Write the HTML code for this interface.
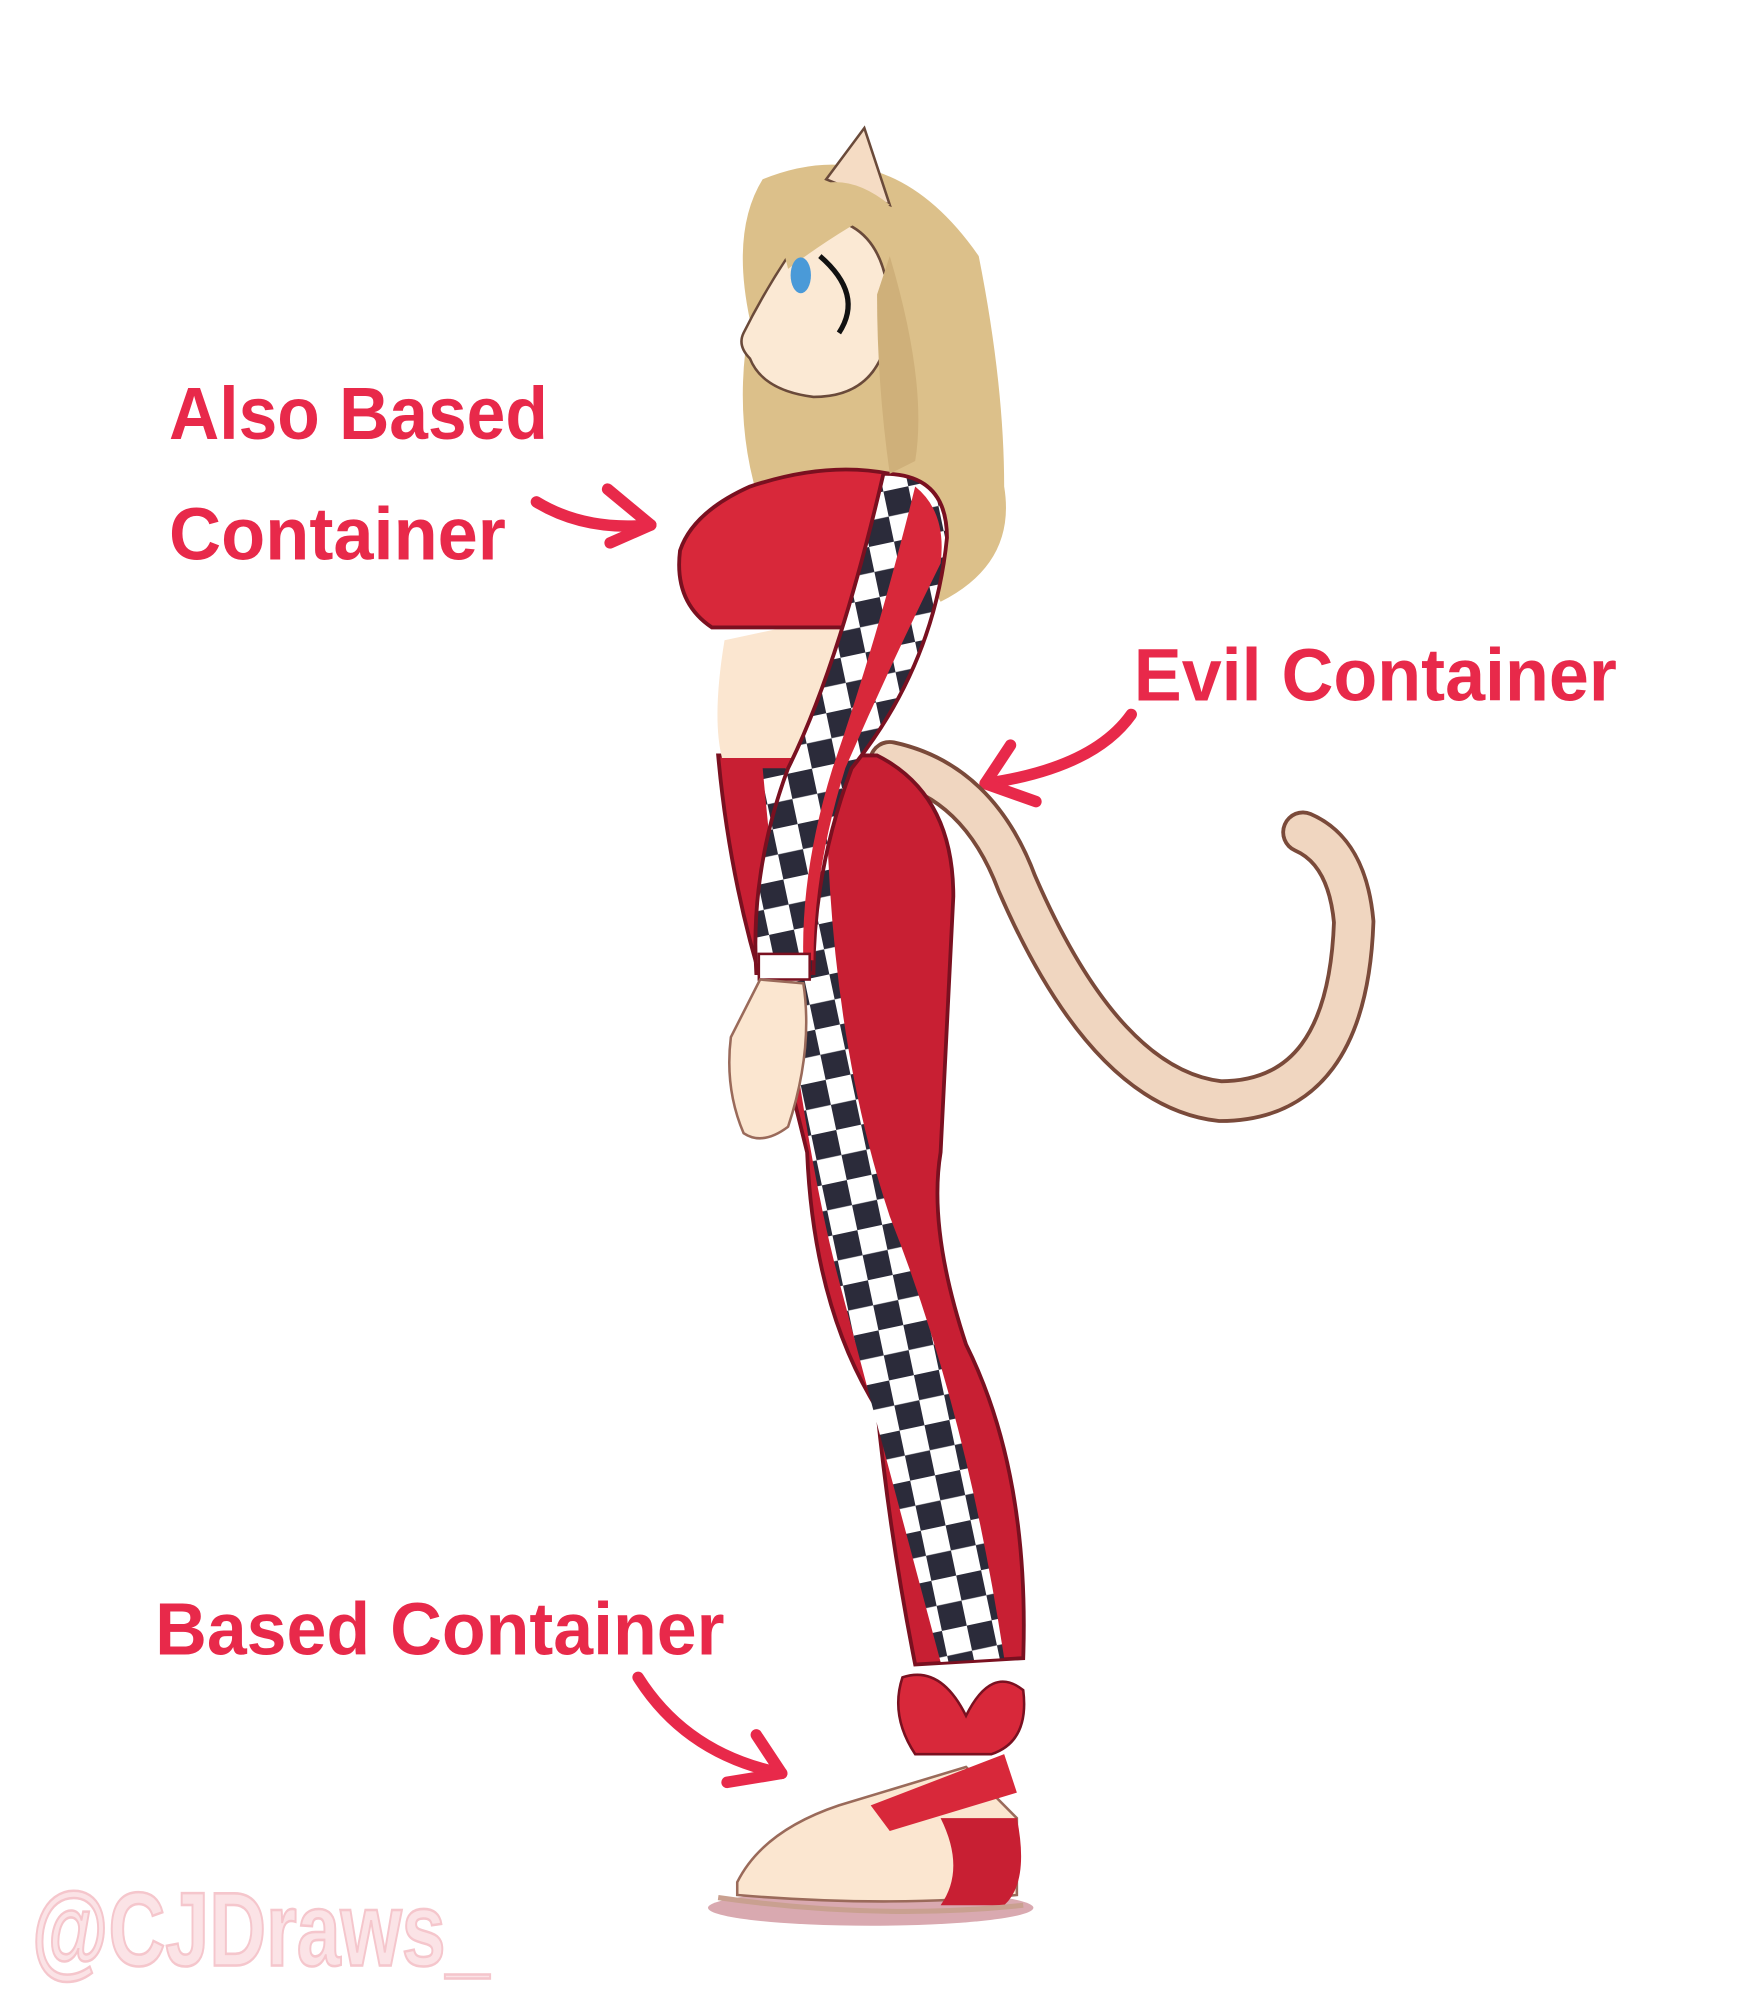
<!DOCTYPE html>
<html><head><meta charset="utf-8"><style>
html,body{margin:0;padding:0;background:#fff;width:1763px;height:2000px;overflow:hidden}
svg{display:block}
text{font-family:"Liberation Sans Narrow","Liberation Sans",sans-serif;font-weight:bold}
</style></head><body>
<svg width="1763" height="2000" viewBox="0 0 1387 1562" preserveAspectRatio="none" xmlns="http://www.w3.org/2000/svg">
<defs>
<pattern id="chk" width="40" height="40" patternUnits="userSpaceOnUse" patternTransform="rotate(-12)">
<rect width="40" height="40" fill="#fff"/><rect width="20" height="20" fill="#2b2b3a"/><rect x="20" y="20" width="20" height="20" fill="#2b2b3a"/>
</pattern>
</defs>
<!-- labels -->
<g fill="#e8294a">
<text x="133" y="343" font-size="58" textLength="298" lengthAdjust="spacingAndGlyphs">Also Based</text>
<text x="133" y="437" font-size="58" textLength="265" lengthAdjust="spacingAndGlyphs">Container</text>
<text x="892" y="547" font-size="58" textLength="380" lengthAdjust="spacingAndGlyphs">Evil Container</text>
<text x="122" y="1292" font-size="58" textLength="448" lengthAdjust="spacingAndGlyphs">Based Container</text>
</g>
<!-- arrows -->
<g fill="none" stroke="#e8294a" stroke-width="9" stroke-linecap="round" stroke-linejoin="round">
<path d="M422 392 Q460 415 512 410"/><path d="M478 382 L512 410 L480 424"/>
<path d="M890 558 Q860 600 775 612"/><path d="M795 582 L775 612 L815 626"/>
<path d="M502 1310 Q540 1370 615 1385"/><path d="M595 1355 L615 1385 L572 1392"/>
</g>
<!-- shadow -->
<ellipse cx="685" cy="1490" rx="128" ry="14" fill="#d9a9b0"/>
<!-- tail -->
<path d="M700 595 Q770 610 800 690 Q870 850 960 860 Q1060 860 1065 720 Q1060 665 1025 650" fill="none" stroke="#7a4a3a" stroke-width="34" stroke-linecap="round"/>
<path d="M700 595 Q770 610 800 690 Q870 850 960 860 Q1060 860 1065 720 Q1060 665 1025 650" fill="none" stroke="#f0d6c0" stroke-width="28" stroke-linecap="round"/>
<!-- hair back -->
<path d="M600 140 Q700 100 770 200 Q790 300 790 380 Q800 440 740 470 L700 400 L600 400 Q575 330 590 250 Q575 180 600 140Z" fill="#dcc08a"/>
<!-- legs/pants -->
<path d="M565 590 L690 590 Q750 620 750 700 Q745 800 740 900 Q730 960 760 1050 Q810 1150 805 1295 L720 1300 Q700 1200 690 1100 Q640 1020 635 900 L610 800 Q575 700 565 590Z" fill="#c81f33" stroke="#7a1020" stroke-width="3"/>
<path d="M600 600 L650 600 Q650 800 700 950 Q760 1100 790 1295 L740 1298 Q700 1150 660 1000 Q625 870 600 600Z" fill="url(#chk)"/>
<!-- torso -->
<path d="M570 500 Q560 560 568 592 L650 592 Q670 540 665 480 Z" fill="#fbe6d0"/>
<!-- top -->
<path d="M590 380 Q650 360 700 370 Q740 380 740 450 Q735 480 690 490 L560 490 Q530 470 535 430 Q545 400 590 380Z" fill="#d8283a" stroke="#7a1020" stroke-width="3"/>
<!-- arm -->
<path d="M695 370 Q745 370 745 420 Q735 520 670 600 Q640 680 640 760 L595 760 Q590 680 620 600 Q660 520 695 370Z" fill="url(#chk)" stroke="#7a1020" stroke-width="3"/>
<path d="M720 380 Q745 400 740 440 Q700 520 665 600 Q640 680 640 750 L632 750 Q630 680 655 600 Q690 500 720 380Z" fill="#d8283a"/>
<rect x="597" y="745" width="40" height="20" fill="#fff" stroke="#7a1020" stroke-width="2"/>
<!-- hand -->
<path d="M598 765 L632 768 Q640 820 620 880 Q600 895 585 885 Q570 850 575 810 Z" fill="#fbe6d0" stroke="#9a6a5a" stroke-width="2"/>
<!-- head -->
<path d="M640 170 Q700 170 700 250 Q695 310 640 310 Q600 305 590 280 Q580 270 585 260 Q600 230 620 200Z" fill="#fbe9d4" stroke="#6a4a3a" stroke-width="2"/>
<path d="M650 140 L680 100 L700 160 Z" fill="#f5dcc4" stroke="#6a4a3a" stroke-width="2"/>
<path d="M610 170 Q650 120 700 160 Q660 180 620 210 Z" fill="#dcc08a"/>
<ellipse cx="630" cy="215" rx="8" ry="14" fill="#4a9ad8"/>
<path d="M645 200 Q680 230 660 260" fill="none" stroke="#111" stroke-width="4"/>
<!-- neck hair front -->
<path d="M700 200 Q730 300 720 360 L700 370 Q690 300 690 230Z" fill="#cfb07a"/>
<!-- shoe -->
<path d="M580 1470 Q600 1430 660 1410 L760 1380 L800 1420 L800 1480 Q700 1490 580 1480Z" fill="#fbe6d0" stroke="#9a6a5a" stroke-width="2"/>
<path d="M740 1420 L800 1420 Q810 1470 790 1488 L740 1488 Q760 1460 740 1420Z" fill="#c81f33"/>
<path d="M685 1410 L790 1370 L800 1400 L700 1430Z" fill="#d8283a"/>
<path d="M710 1310 Q740 1300 760 1340 Q780 1300 805 1320 Q810 1360 780 1370 L720 1370 Q700 1340 710 1310Z" fill="#d8283a" stroke="#7a1020" stroke-width="2"/>
<path d="M565 1482 Q690 1500 805 1488" fill="none" stroke="#c9a090" stroke-width="4"/>
<!-- watermark -->
<text x="25" y="1535" font-size="82" fill="#fbe3e6" stroke="#f5c6cc" stroke-width="2" textLength="360" lengthAdjust="spacingAndGlyphs">@CJDraws_</text>
</svg>
</body></html>
